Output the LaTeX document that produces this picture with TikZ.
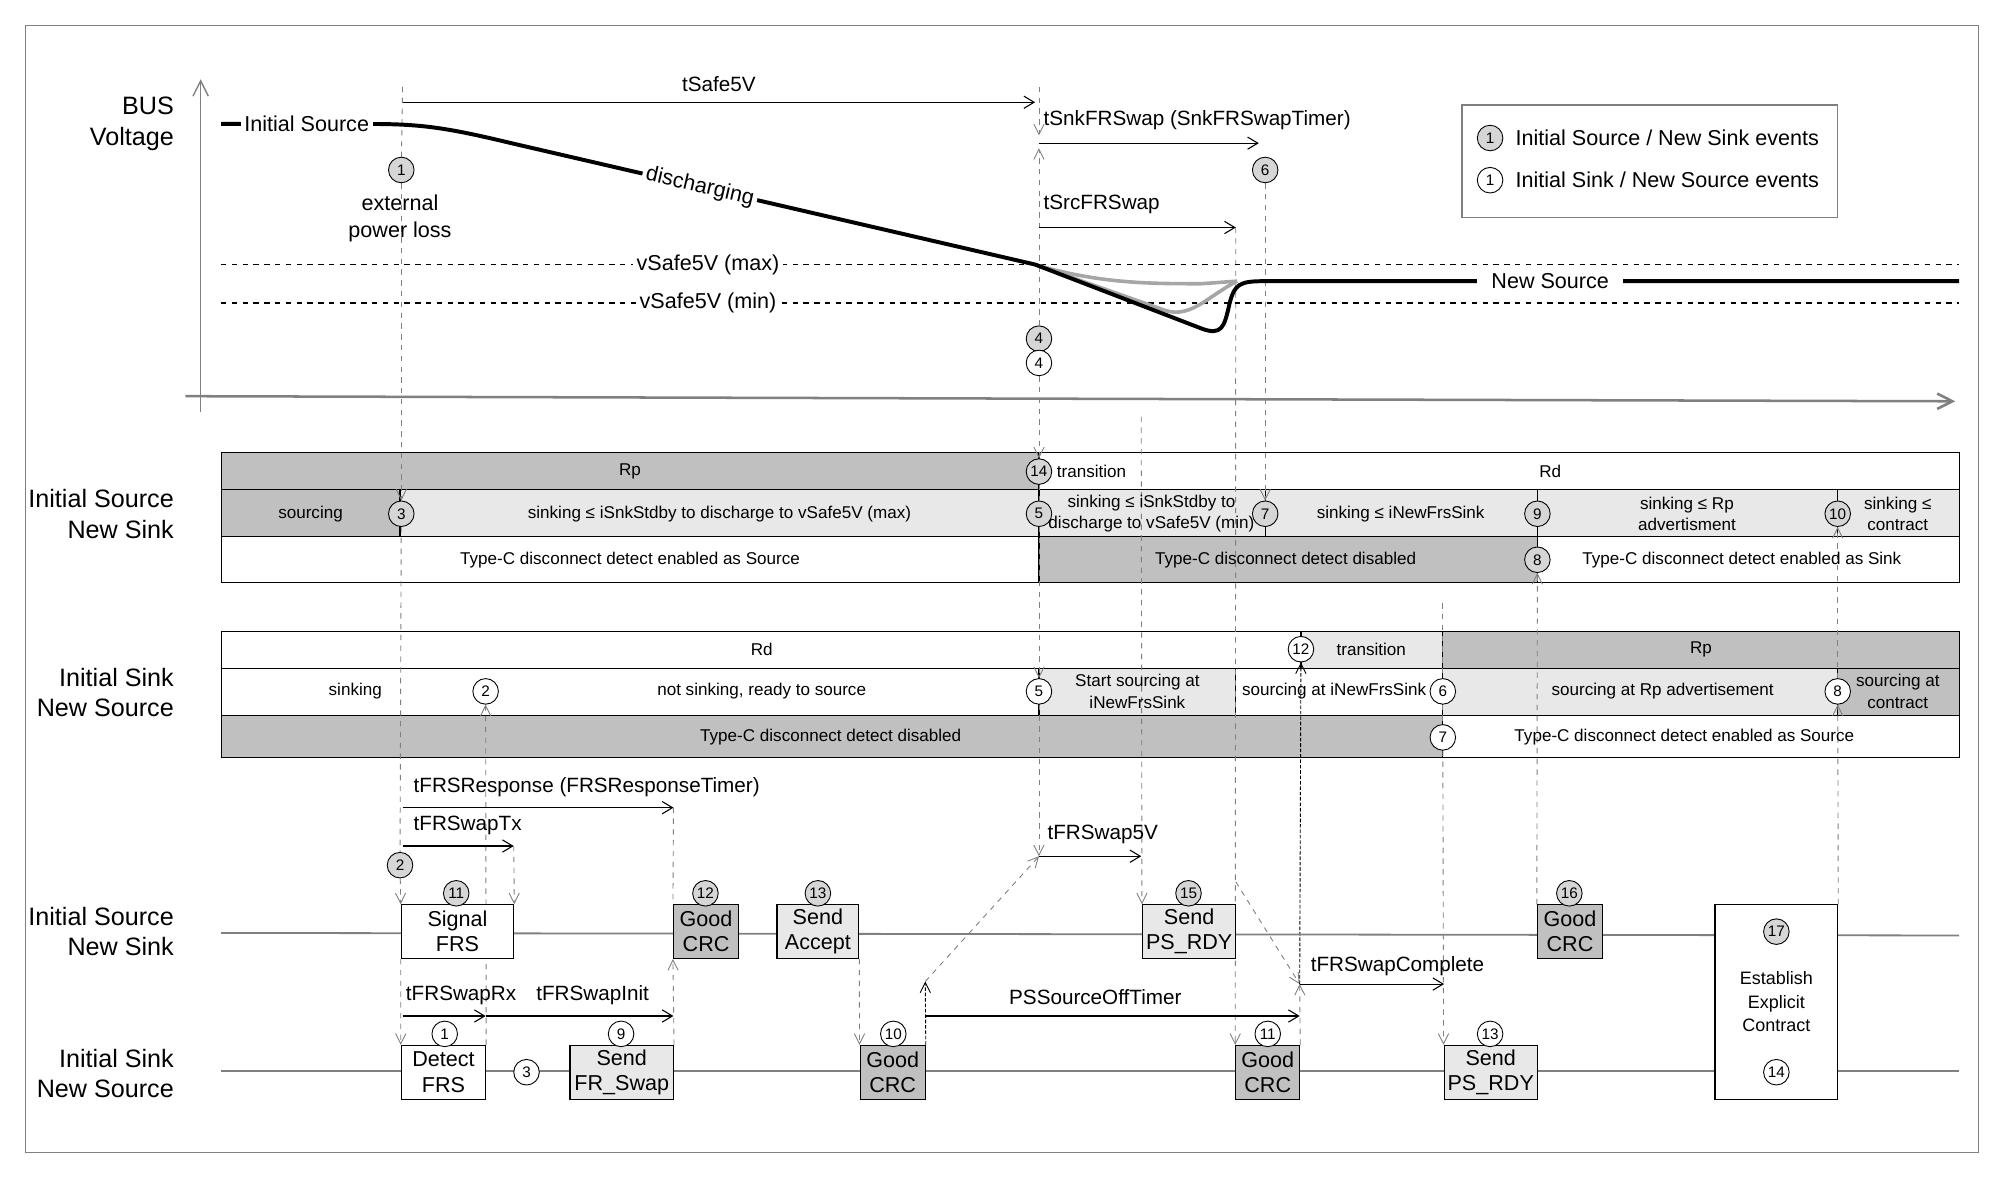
\documentclass[tikz,border=0pt]{standalone}
\usepackage{fontspec}
\setmainfont{Liberation Sans}
\usepackage{tikz}
\usetikzlibrary{arrows.meta, positioning, backgrounds}
\definecolor{celldark}{HTML}{C0C0C0}
\definecolor{celllight}{HTML}{E8E8E8}
\definecolor{evgray}{HTML}{D6D6D6}
\definecolor{linegray}{HTML}{808080}
\tikzset{
  lbl/.style={font=\fontsize{14}{17}\selectfont, align=right, anchor=east},
  cell/.style={draw=black, line width=0.6pt},
  ctext/.style={font=\fontsize{9.5}{12}\selectfont, align=center},
  ev/.style={circle, draw=black, line width=0.5pt, minimum size=0.5cm, inner sep=0pt, font=\fontsize{8.5}{9}\selectfont},
  evsrc/.style={ev, fill=evgray},
  evsnk/.style={ev, fill=white},
  tick/.style={draw=linegray, dashed, line width=0.5pt},
  tickarr/.style={tick, -{Straight Barb[length=2mm, width=2mm]}},
  timer/.style={draw=black, line width=0.6pt, -{Straight Barb[length=2mm, width=2.4mm]}},
  tname/.style={font=\fontsize{11.5}{13}\selectfont, anchor=south west, inner sep=1pt},
  msg/.style={draw=black, line width=0.6pt, minimum height=1.05cm, inner sep=0pt, align=center, font=\fontsize{12}{14}\selectfont},
  vcurve/.style={line width=2.2pt, black},
  vlbl/.style={font=\fontsize{12}{14}\selectfont, fill=white, inner sep=2pt}
}
\begin{document}
\begin{tikzpicture}[x=0.025cm, y=-0.025cm]
  \useasboundingbox (0,0) rectangle (1565,921.7);
  % Frame
  \draw[linegray, line width=0.8pt] (20,20) rectangle (1548,902);

  % Row labels
  \node[lbl] (lbus) at (141,97) {BUS\\Voltage};
  \node[lbl] (lsrcA) at (141,402) {Initial Source\\New Sink};
  \node[lbl] (lsnkA) at (141,542) {Initial Sink\\New Source};
  \node[lbl] (lsrcB) at (141,729) {Initial Source\\New Sink};
  \node[lbl] (lsnkB) at (141,840) {Initial Sink\\New Source};

  % Axes
  \draw[linegray, line width=0.8pt, -{Straight Barb[length=3mm, width=3mm]}] (157,322) -- (157,62);
  \draw[linegray, line width=1.4pt, -{Straight Barb[length=3mm, width=3mm]}] (145,310) -- (1530,314);

  % vSafe5V levels
  \draw[black, dashed, line width=0.9pt] (173,207) -- (1533,207);
  \draw[black, dashed, line width=0.9pt] (173,237) -- (1533,237);
  \node[vlbl] (vmax) at (554,207) {vSafe5V (max)};
  \node[vlbl] (vmin) at (554,237) {vSafe5V (min)};

  % VBUS curve
  \draw[linegray!70, line width=2pt] (810,207) .. controls (860,222) and (900,222) .. (940,222) -- (968,220);
  \draw[linegray!70, line width=2pt] (810,207) -- (912,243) .. controls (932,249) and (945,232) .. (968,220);
  \draw[vcurve] (173,97) -- (290,97) .. controls (330,97) and (350,100) .. (400,112)
    -- node[pos=0.36, sloped, vlbl] (dischg) {discharging} (810,207) -- (940,257)
    .. controls (956,263) and (958,256) .. (962,238) .. controls (966,222) and (970,220) .. (990,220) -- (1533,220);
  \node[vlbl] (isrc) at (240,97) {Initial Source};
  \node[vlbl, inner xsep=8pt] (nsrc) at (1213,220) {New Source};

  % Legend
  \draw[linegray, line width=0.8pt] (1144,82) rectangle (1438,170);
  \node[evsrc] (legA) at (1166,108) {1};
  \node[evsnk] (legB) at (1166,141) {1};
  \node[font=\fontsize{12}{14}\selectfont, anchor=west] (legAt) at (1181,108) {Initial Source / New Sink events};
  \node[font=\fontsize{12}{14}\selectfont, anchor=west] (legBt) at (1181,141) {Initial Sink / New Source events};

  % Initial Source / New Sink table
  \begin{scope}[on background layer]
    \filldraw[cell, fill=celldark] (173,354) rectangle (813,383);
    \filldraw[cell, fill=white] (813,354) rectangle (1533,383);
    \filldraw[cell, fill=celldark] (173,383) rectangle (313,420);
    \filldraw[cell, fill=celllight] (313,383) rectangle (1533,420);
    \filldraw[cell, fill=white] (173,420) rectangle (813,456);
    \filldraw[cell, fill=celldark] (813,420) rectangle (1203,456);
    \filldraw[cell, fill=white] (1203,420) rectangle (1533,456);
    \foreach \x in {813, 990, 1203, 1438}
      \draw[cell] (\x,383) -- (\x,420);
  \end{scope}
  \node[ctext] (aRp) at (493,369) {Rp};
  \node[ctext, anchor=west] (aTr) at (822,369) {transition};
  \node[ctext] (aRd) at (1213,369) {Rd};
  \node[ctext] (aSrc) at (243,402) {sourcing};
  \node[ctext] (aSnkA) at (563,402) {sinking ≤ iSnkStdby to discharge to vSafe5V (max)};
  \node[ctext] (aSnkB) at (901,402) {sinking ≤ iSnkStdby to\\discharge to vSafe5V (min)};
  \node[ctext] (aSnkC) at (1096,402) {sinking ≤ iNewFrsSink};
  \node[ctext] (aSnkD) at (1320,402) {sinking ≤ Rp\\advertisment};
  \node[ctext] (aSnkE) at (1485,402) {sinking ≤\\contract};
  \node[ctext] (aDetA) at (493,438) {Type-C disconnect detect enabled as Source};
  \node[ctext] (aDetB) at (1006,438) {Type-C disconnect detect disabled};
  \node[ctext] (aDetC) at (1363,438) {Type-C disconnect detect enabled as Sink};

  % Initial Sink / New Source table
  \begin{scope}[on background layer]
    \filldraw[cell, fill=white] (173,494) rectangle (1018,523);
    \filldraw[cell, fill=celllight] (1018,494) rectangle (1129,523);
    \filldraw[cell, fill=celldark] (1129,494) rectangle (1533,523);
    \filldraw[cell, fill=white] (173,523) rectangle (813,560);
    \filldraw[cell, fill=celllight] (813,523) rectangle (967,560);
    \filldraw[cell, fill=white] (967,523) rectangle (1129,560);
    \filldraw[cell, fill=celllight] (1129,523) rectangle (1438,560);
    \filldraw[cell, fill=celldark] (1438,523) rectangle (1533,560);
    \filldraw[cell, fill=celldark] (173,560) rectangle (1129,593);
    \filldraw[cell, fill=white] (1129,560) rectangle (1533,593);
  \end{scope}
  \node[ctext] (bRd) at (596,508) {Rd};
  \node[ctext] (bTr) at (1073,508) {transition};
  \node[ctext] (bRp) at (1331,508) {Rp};
  \node[ctext] (bSnk) at (278,541) {sinking};
  \node[ctext] (bRdy) at (596,541) {not sinking, ready to source};
  \node[ctext] (bStart) at (890,541) {Start sourcing at\\iNewFrsSink};
  \node[ctext] (bNew) at (1044,541) {sourcing at iNewFrsSink};
  \node[ctext] (bAdv) at (1301,541) {sourcing at Rp advertisement};
  \node[ctext] (bCon) at (1485,541) {sourcing at\\contract};
  \node[ctext] (bDetA) at (650,577) {Type-C disconnect detect disabled};
  \node[ctext] (bDetB) at (1318,577) {Type-C disconnect detect enabled as Source};

  % Message lanes
  \draw[linegray, line width=1pt] (173,730) -- (1533,732);
  \draw[linegray, line width=1pt] (173,838) -- (1533,838);

  % Messages
  \node[msg, fill=white, minimum width=2.2cm] (sigfrs) at (358,729) {Signal\\FRS};
  \node[msg, fill=celldark, minimum width=1.275cm] (gcrcA) at (552.5,729) {Good\\CRC};
  \node[msg, fill=celllight, minimum width=1.6cm] (sacc) at (640,729) {Send\\Accept};
  \node[msg, fill=celllight, minimum width=1.825cm] (spsA) at (930.5,729) {Send\\PS\_RDY};
  \node[msg, fill=celldark, minimum width=1.275cm] (gcrcB) at (1228.5,729) {Good\\CRC};
  \node[msg, fill=white, minimum width=2.4cm, minimum height=3.8cm, font=\fontsize{10}{13}\selectfont] (estab) at (1390,784) {Establish\\Explicit\\Contract};
  \node[msg, fill=white, minimum width=1.65cm] (detfrs) at (347,839) {Detect\\FRS};
  \node[msg, fill=celllight, minimum width=2.025cm] (sfrs) at (486.5,839) {Send\\FR\_Swap};
  \node[msg, fill=celldark, minimum width=1.275cm] (gcrcC) at (698.5,839) {Good\\CRC};
  \node[msg, fill=celldark, minimum width=1.25cm] (gcrcD) at (992,839) {Good\\CRC};
  \node[msg, fill=celllight, minimum width=1.825cm] (spsB) at (1166.5,839) {Send\\PS\_RDY};

  % Events of Initial Source / New Sink
  \node[evsrc] (e1) at (314,133) {1};
  \node[font=\fontsize{12}{15}\selectfont, align=center] (eloss) at (313,171) {external\\power loss};
  \node[evsrc] (e6) at (990,133) {6};
  \node[evsrc] (e4) at (813,265) {4};
  \node[evsrc] (e3) at (314,402) {3};
  \node[evsrc] (e14) at (813,369) {14};
  \node[evsrc] (e5) at (813,402) {5};
  \node[evsrc] (e7) at (990,402) {7};
  \node[evsrc] (e9) at (1203,402) {9};
  \node[evsrc] (e10) at (1438,402) {10};
  \node[evsrc] (e8) at (1203,438) {8};
  \node[evsrc] (e2) at (313,677) {2};
  \node[evsrc] (e11) at (357,699) {11};
  \node[evsrc] (e12) at (552,699) {12};
  \node[evsrc] (e13) at (640,699) {13};
  \node[evsrc] (e15) at (930,699) {15};
  \node[evsrc] (e16) at (1228,699) {16};
  \node[evsrc] (e17) at (1390,729) {17};

  % Events of Initial Sink / New Source
  \node[evsnk] (n4) at (813,284) {4};
  \node[evsnk] (n2) at (380,541) {2};
  \node[evsnk] (n5) at (813,541) {5};
  \node[evsnk] (n12) at (1018,508) {12};
  \node[evsnk] (n6) at (1129,541) {6};
  \node[evsnk] (n8) at (1438,541) {8};
  \node[evsnk] (n7) at (1129,577) {7};
  \node[evsnk] (n1) at (348,809) {1};
  \node[evsnk] (n3) at (412,839) {3};
  \node[evsnk] (n9) at (486,809) {9};
  \node[evsnk] (n10) at (699,809) {10};
  \node[evsnk] (n11) at (992,809) {11};
  \node[evsnk] (n13) at (1166,809) {13};
  \node[evsnk] (n14) at (1390,839) {14};

  % Timer end points
  \coordinate (cA) at (315,68);
  \coordinate (cSafe) at (315,80);
  \coordinate (cSafeEnd) at (810,80);
  \coordinate (cB) at (813,68);
  \coordinate (cSnk) at (813,112);
  \coordinate (cSnkEnd) at (985,112);
  \coordinate (cSrc) at (813,178);
  \coordinate (cSrcEnd) at (967,178);
  \coordinate (cResp) at (315,632);
  \coordinate (cRespEnd) at (527,632);
  \coordinate (cTx) at (315,662);
  \coordinate (cTxEnd) at (402,662);
  \coordinate (cRx) at (315,795);
  \coordinate (cRxEnd) at (380,795);
  \coordinate (cInitEnd) at (527,795);
  \coordinate (cOff) at (724,795);
  \coordinate (cOffEnd) at (1017,795);
  \coordinate (c5V) at (813,670);
  \coordinate (c5VEnd) at (893,670);
  \coordinate (cCmp) at (1017,770);
  \coordinate (cCmpEnd) at (1130,770);
  \coordinate (cGcUp) at (724,768);
  \coordinate (cPr) at (893,326);
  \coordinate (cDiag) at (967,690);
  \coordinate (cPs) at (1129,472);

  % Timers
  \draw[timer] (cSafe) -- node[above=2pt, font=\fontsize{11.5}{13}\selectfont] (tsafe) {tSafe5V} (cSafeEnd);
  \draw[timer] (cSnk) -- (cSnkEnd);
  \node[tname] (tsnk) at (815,103) {tSnkFRSwap (SnkFRSwapTimer)};
  \draw[timer] (cSrc) -- (cSrcEnd);
  \node[tname] (tsrc) at (815,169) {tSrcFRSwap};
  \draw[timer] (cResp) -- (cRespEnd);
  \node[tname] (tresp) at (322,625) {tFRSResponse (FRSResponseTimer)};
  \draw[timer] (cTx) -- (cTxEnd);
  \node[tname] (ttx) at (322,655) {tFRSwapTx};
  \draw[timer] (cRx) -- (cRxEnd);
  \node[tname] (trx) at (316,788) {tFRSwapRx};
  \draw[timer] (cRxEnd) -- (cInitEnd);
  \node[tname] (tinit) at (418,788) {tFRSwapInit};
  \draw[timer] (cOff) -- (cOffEnd);
  \node[tname] (toff) at (788,788) {PSSourceOffTimer};
  \draw[timer] (c5V) -- (c5VEnd);
  \node[tname] (t5v) at (818,662) {tFRSwap5V};
  \draw[timer] (cCmp) -- (cCmpEnd);
  \node[tname] (tcmp) at (1024,765) {tFRSwapComplete};

  % Event ticks
  \begin{scope}[on background layer]
    \draw[tick] (cA) -- (e1);
    \draw[tickarr] (e1) -- (e3);
    \draw[tick] (e3) -- (e2);
    \draw[tickarr] (e2) -- (sigfrs.north west);
    \draw[tickarr] (sigfrs.south west) -- (detfrs.north west);
    \draw[tickarr] (cTxEnd) -- (sigfrs.north east);
    \draw[tickarr] (detfrs.north east) -- (n2);
    \draw[tick] (cRespEnd) -- (gcrcA.north west);
    \draw[tickarr] (sfrs.north east) -- (gcrcA.south west);
    \draw[tickarr] (sacc.south east) -- (gcrcC.north west);
    \draw[tickarr, dash pattern=on 2pt off 1pt, black] (gcrcC.north east) -- (cGcUp);
    \draw[tickarr] (cGcUp) -- (c5V);
    \draw[tickarr] (cB) -- (813,106);
    \draw[tickarr] (e4) -- (813,116);
    \draw[tickarr] (n4) -- (e14);
    \draw[tick] (e14) -- (e5);
    \draw[tickarr] (e5) -- (n5);
    \draw[tickarr] (n5) -- (c5V);
    \draw[tickarr] (cPr) -- (spsA.north west);
    \draw[tickarr] (cSrcEnd) -- (gcrcD.north west);
    \draw[tickarr] (cDiag) -- (cCmp);
    \draw[tickarr] (gcrcD.north east) -- (cCmp);
    \draw[tickarr, dash pattern=on 2pt off 1pt, black] (cCmp) -- (n12);
    \draw[tickarr] (e6) -- (e7);
    \draw[tick] (cPs) -- (n6);
    \draw[tick] (n6) -- (n7);
    \draw[tickarr] (n7) -- (spsB.north west);
    \draw[tickarr] (gcrcB.north west) -- (e8);
    \draw[tickarr] (estab.north east) -- (n8);
    \draw[tickarr] (n8) -- (e10);
  \end{scope}
\end{tikzpicture}
\end{document}
